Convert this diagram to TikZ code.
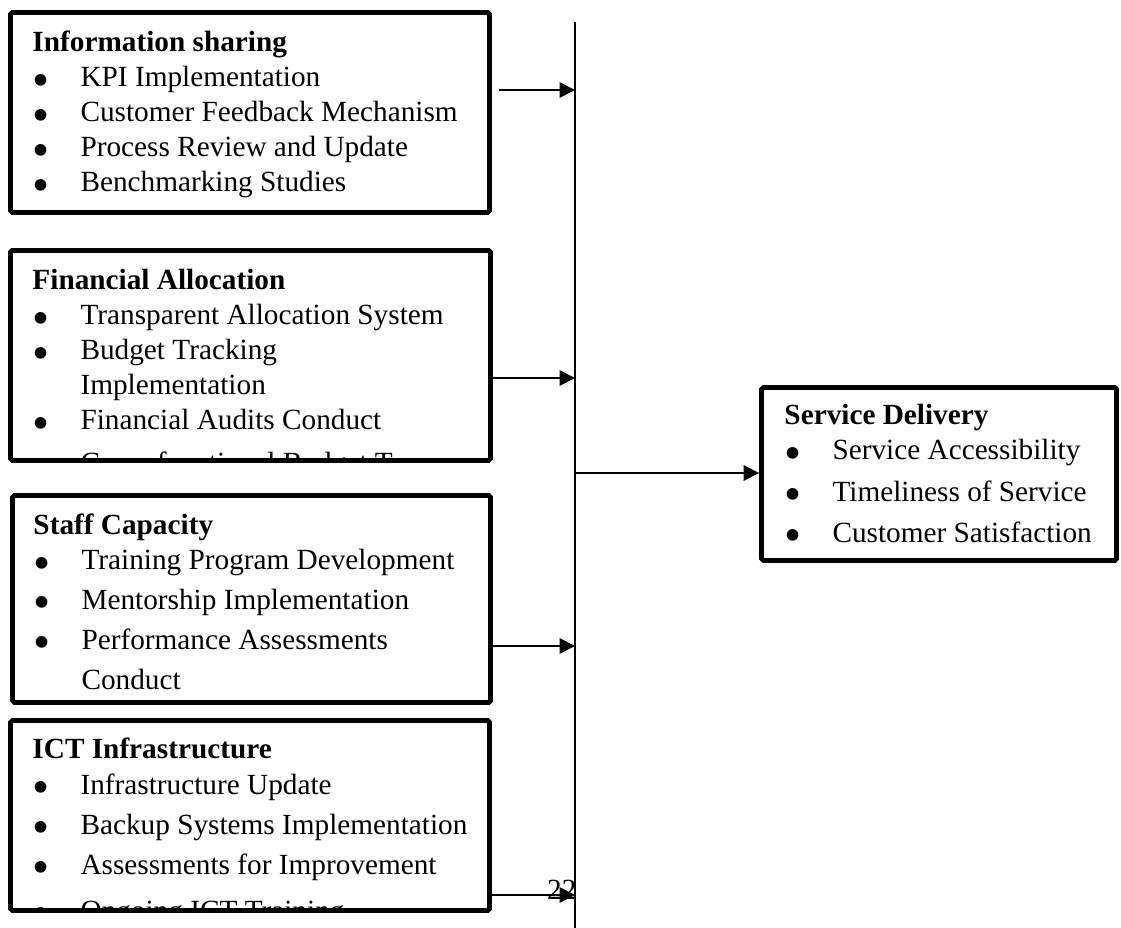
\documentclass[tikz,border=0pt]{standalone}
\usepackage{fontspec}
\setmainfont{Liberation Serif}
\usetikzlibrary{arrows.meta, positioning, fit, calc}
\newcommand{\bul}[1]{\makebox[19.7pt][l]{\raisebox{-3.7pt}[0pt][0pt]{\fontsize{20}{0}\selectfont\textbullet}}#1}
\newcommand{\cont}[1]{\hspace*{19.7pt}#1}
\newcommand{\lines}[1]{\parbox[t]{190pt}{\raggedright #1}}

\begin{document}
\begin{tikzpicture}[x=0.41pt, y=-0.41pt, font=\fontsize{12}{14.35}\selectfont,
  panel/.style={draw, line width=2pt, inner sep=0pt, rounded corners=0.8pt},
  itemlist/.style={anchor=base west, inner sep=0pt},
  link/.style={line width=0.75pt, -{Triangle[length=6.3pt, width=6.3pt]}}]
  \useasboundingbox (0,0) rectangle (1121,928);

  \node (info) [panel, fit={(10.5,12.5) (489.5,212.5)}] {};
  \node (fin) [panel, fit={(10.5,250.5) (490.5,460.5)}] {};
  \node (staff) [panel, fit={(12.5,495.5) (490.5,702.5)}] {};
  \node (ict) [panel, fit={(10.5,720.5) (489.5,910.5)}] {};
  \node (serv) [panel, fit={(761.5,387.5) (1116.5,560.5)}] {};

  \node (infotxt) [itemlist] at (32,52) {\lines{\textbf{Information sharing}\\
    \bul{KPI Implementation}\\ \bul{Customer Feedback Mechanism}\\
    \bul{Process Review and Update}\\ \bul{Benchmarking Studies}}};
  \begin{scope}
    \clip ([shift={(1.5pt,1.5pt)}]fin.south west) rectangle ([shift={(-1pt,-1pt)}]fin.north east);
    \node (fintxt) [itemlist] at (32,290) {\lines{\textbf{Financial Allocation}\\
      \bul{Transparent Allocation System}\\ \bul{Budget Tracking}\\
      \cont{Implementation}\\ \bul{Financial Audits Conduct}\\[3pt]
      \bul{Cross-functional Budget Teams}}};
  \end{scope}
  \node (stafftxt) [itemlist] at (33,535) {\lines{\textbf{Staff Capacity}\\
    \bul{Training Program Development}\\[2pt] \bul{Mentorship Implementation}\\[2pt]
    \bul{Performance Assessments}\\[2pt] \cont{Conduct}}};
  \begin{scope}
    \clip ([shift={(1.5pt,1.8pt)}]ict.south west) rectangle ([shift={(-1pt,-1pt)}]ict.north east);
    \node (icttxt) [itemlist] at (32,758) {\lines{\textbf{ICT Infrastructure}\\[0.8pt]
      \bul{Infrastructure Update}\\[2pt] \bul{Backup Systems Implementation}\\[2pt]
      \bul{Assessments for Improvement}\\[4.5pt] \bul{Ongoing ICT Training}}};
  \end{scope}
  \node (servtxt) [itemlist] at (784,425) {\lines{\textbf{Service Delivery}\\
    \bul{Service Accessibility}\\[2.5pt] \bul{Timeliness of Service}\\[2.5pt]
    \bul{Customer Satisfaction}}};

  \coordinate (bustop) at (575,22);
  \coordinate (busbot) at (575,928);
  \coordinate (t1) at (575,90);
  \coordinate (t2) at (575,378);
  \coordinate (t3) at (575,646);
  \coordinate (t4) at (575,895);
  \coordinate (t0) at (576,473);
  \draw[line width=0.8pt] (bustop) -- (busbot);
  \draw[link] ($(info.east |- t1)+(3pt,0)$) -- (t1);
  \draw[link] (fin.east |- t2) -- (t2);
  \draw[link] (staff.east |- t3) -- (t3);
  \draw[link] (ict.east |- t4) -- (t4);
  \draw[link] (t0) -- (serv.west |- t0);

  \node (pgnum) [anchor=base east, inner sep=0pt] at (577,899) {22};
\end{tikzpicture}
\end{document}
